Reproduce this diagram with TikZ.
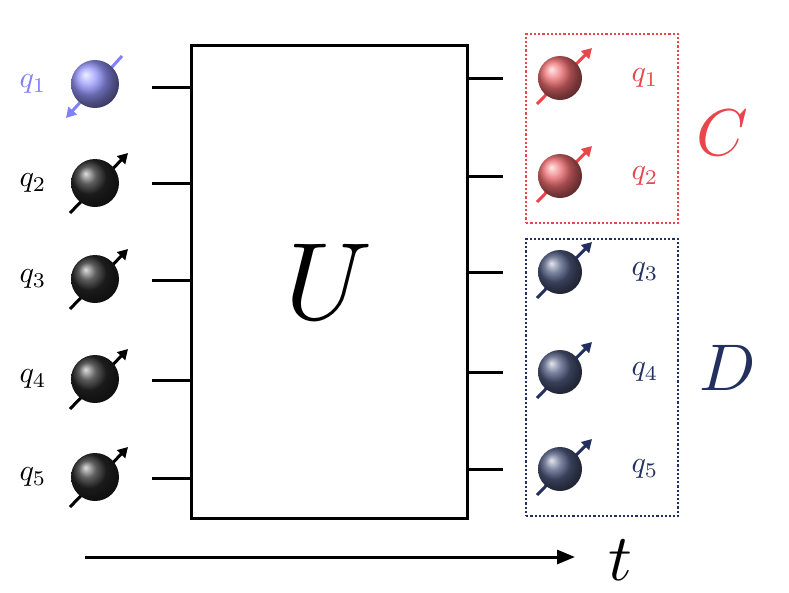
\documentclass[tikz,border=0pt]{standalone}
\usepackage{graphicx}
\usetikzlibrary{arrows.meta}
\begin{document}
\begin{tikzpicture}[x=1pt,y=-1pt,
  wire/.style={line width=3pt},
  spin/.style={line width=3pt,-{Triangle[length=10pt,width=11pt]}},
  grp/.style={line width=2.2pt,dotted}]
\useasboundingbox (0,0) rectangle (789,592);
\definecolor{lb}{RGB}{128,128,250}
\definecolor{rd}{RGB}{232,70,75}
\definecolor{nv}{RGB}{35,48,95}
\node[draw,line width=3pt,minimum width=276pt,minimum height=473pt,anchor=north west] (U) at (190,44) {};
\node (Ut) at (U.center) {\scalebox{11}{$U$}};
% left qubits
\foreach \y/\i/\c/\yl in {84/1/lb/87,183/2/black/183,279/3/black/280,379/4/black/380,477/5/black/478}{
  \coordinate (lw\i) at (152,\yl);
  \draw[wire] (lw\i) -- (lw\i -| U.west);
  \ifnum\i=1
    \draw[spin,draw=\c,fill=\c] (122,\y-28) -- (66,\y+34);
  \else
    \draw[spin,draw=\c,fill=\c] (70,\y+30) -- (128,\y-30);
  \fi
  \shade[ball color=\c!85!white] (95,\y) circle (24) coordinate (ls\i);
  \node[text=\c] (lq\i) at (33,\y) {\scalebox{3}{$q_{\i}$}};
}
% right qubits
\foreach \y/\i/\c in {78/1/rd,176/2/rd,272/3/nv,372/4/nv,469/5/nv}{
  \coordinate (rw\i) at (503,\y);
  \draw[wire] (U.east |- rw\i) -- (rw\i);
  \draw[spin,draw=\c,fill=\c] (537,\y+26) -- (592,\y-30);
  \shade[ball color=\c!80!white] (560,\y) circle (22);
  \node[text=\c] (rq\i) at (645,\y) {\scalebox{3}{$q_{\i}$}};
}
\node[draw=rd,grp,minimum width=152pt,minimum height=189pt,anchor=north west] (Cb) at (525,33) {};
\node[draw=nv,grp,minimum width=152pt,minimum height=277pt,anchor=north west] (Db) at (525,238) {};
\node[text=rd] (C) at (722,133) {\scalebox{6.6}{$C$}};
\node[text=nv] (D) at (728,368) {\scalebox{6.6}{$D$}};
\coordinate (ta) at (85,557);
\coordinate (tb) at (575,557);
\draw[line width=3pt,-{Triangle[length=18pt,width=14pt]}] (ta) -- (tb);
\node (t) at (620,560) {\scalebox{6.6}{$t$}};
\end{tikzpicture}
\end{document}
